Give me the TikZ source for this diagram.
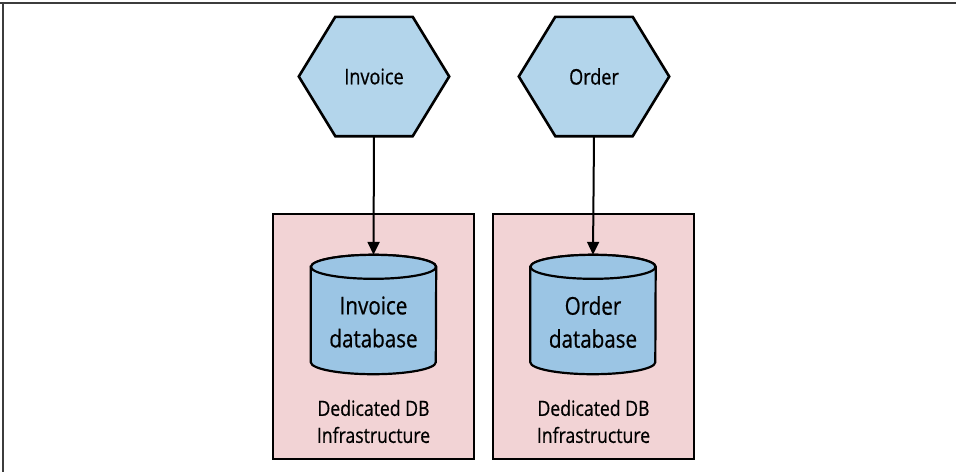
\documentclass[tikz,border=0pt]{standalone}
\usepackage{fontspec}
\setmainfont{Open Sans}[FakeStretch=0.84,FakeBold=0.6]
\usetikzlibrary{calc,backgrounds,arrows.meta}
\definecolor{hexblue}{RGB}{179,213,235}
\definecolor{dbblue}{RGB}{155,197,228}
\definecolor{boxpink}{RGB}{242,211,213}
\definecolor{framegray}{RGB}{60,60,60}
\tikzset{
  hexnode/.style={minimum width=150pt, minimum height=119pt, inner sep=0pt, font=\fontsize{21.5}{24}\selectfont},
  hexline/.style={fill=hexblue, draw=black, line width=2.6pt, line join=miter},
  dbnode/.style={minimum width=125pt, minimum height=119pt, inner sep=0pt},
  dbtext/.style={inner sep=0pt, align=center, font=\fontsize{24.5}{33}\selectfont},
  dbline/.style={fill=dbblue, draw=black, line width=2.2pt},
  boxnode/.style={minimum width=201pt, minimum height=245pt, inner sep=0pt, fill=boxpink, draw=black, line width=2.4pt},
  infratext/.style={align=center, inner sep=0pt, font=\fontsize{21}{27}\selectfont},
  conn/.style={draw=black, line width=2pt, -{Triangle[width=12pt,length=13pt]}},
}
\begin{document}
\begin{tikzpicture}[x=1pt,y=-1pt]
\useasboundingbox (0,0) rectangle (956,472);

% text-bearing nodes
\node[hexnode] (invhex) at (374,76.5) {Invoice};
\node[hexnode] (ordhex) at (594,76.5) {Order};
\node[dbnode] (invdb) at (373.5,314.5) {};
\node[dbnode] (orddb) at (593,314.5) {};
\node[dbtext] (invdbtext) at (373.5,322) {Invoice\\database};
\node[dbtext] (orddbtext) at (593,322) {Order\\database};
\node[infratext] (invinfra) at (373.5,421.5) {Dedicated DB\\Infrastructure};
\node[infratext] (ordinfra) at (593.5,421.5) {Dedicated DB\\Infrastructure};

\begin{scope}[on background layer]
  \fill[white] (0,0) rectangle (956,472);
  \draw[framegray, line width=1.6pt] (0,3) -- (956,3);
  \draw[framegray, line width=1.6pt] (3,3) -- (3,472);
  \node[boxnode] (invbox) at (373.5,336.5) {};
  \node[boxnode] (ordbox) at (593.5,336.5) {};
  \foreach \h in {invhex,ordhex}{
    \draw[hexline] ($(\h.north west)+(36.5,0)$) -- ($(\h.north east)+(-36.5,0)$)
      -- (\h.east) -- ($(\h.south east)+(-36.5,0)$) -- ($(\h.south west)+(36.5,0)$)
      -- (\h.west) -- cycle;
  }
  \foreach \c in {invdb,orddb}{
    \draw[dbline] ($(\c.north west)+(0,12)$) -- ($(\c.south west)+(0,-12)$)
      arc[start angle=180, end angle=360, x radius=62.5pt, y radius=12pt]
      -- ($(\c.north east)+(0,12)$)
      arc[start angle=0, end angle=180, x radius=62.5pt, y radius=12pt] -- cycle;
    \draw[dbline] ($(\c.north)+(0,12)$) ellipse[x radius=62.5pt, y radius=12pt];
  }
\end{scope}

\draw[conn] (invhex.south) -- (invdb.north);
\draw[conn] (ordhex.south) -- (orddb.north);
\end{tikzpicture}
\end{document}
